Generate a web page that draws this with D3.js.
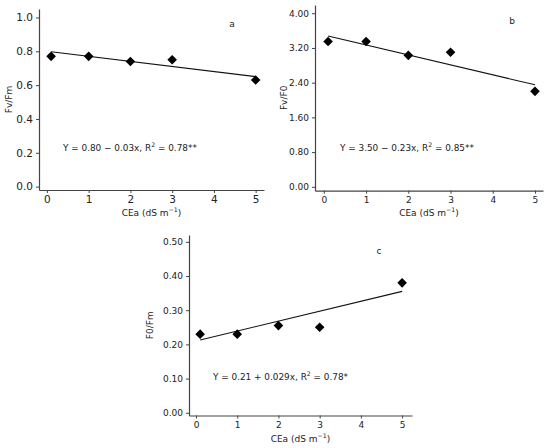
<!DOCTYPE html>
<html><head><meta charset="utf-8">
<script src="https://cdn.jsdelivr.net/npm/d3@7"></script>
<style>
body{margin:0;background:#fff;}
svg{display:block;font-family:"DejaVu Sans",sans-serif;}
</style></head>
<body>
<svg id="chart" width="550" height="448"></svg>
<script>
const ceaLevels = [0.1, 1, 2, 3, 5];
const fvFm = [0.77, 0.77, 0.74, 0.75, 0.63];
const fvF0 = [3.35, 3.35, 3.03, 3.10, 2.20];
const f0Fm = [0.23, 0.23, 0.255, 0.25, 0.38];
const fitA = [0.80, -0.03];
const fitB = [3.50, -0.23];
const fitC = [0.21, 0.029];
const xTicks = [0, 1, 2, 3, 4, 5];
const yTicksA = [0, 0.2, 0.4, 0.6, 0.8, 1.0];
const yTicksB = [0, 0.8, 1.6, 2.4, 3.2, 4.0];
const yTicksC = [0, 0.1, 0.2, 0.3, 0.4, 0.5];

const svg = d3.select("#chart");

const panels = [
  {vals: fvFm, fit: fitA, yTicks: yTicksA, fmt: d3.format(".1f"), ylab: "Fv/Fm", tag: "a",
   eq: ["Y = 0.80 \u2212 0.03x, R", "2", " = 0.78**"],
   xd: [-0.19, 5.2], xr: [39, 264], yd: [-0.02, 1.05], yr: [190, 9],
   tickFs: 10.5, eqPos: [63, 151], tagPos: [232, 27], ylabX: 12, xlabY: 216},
  {vals: fvF0, fit: fitB, yTicks: yTicksB, fmt: d3.format(".2f"), ylab: "Fv/F0", tag: "b",
   eq: ["Y = 3.50 \u2212 0.23x, R", "2", " = 0.85**"],
   xd: [-0.21, 5.19], xr: [315, 543], yd: [-0.09, 4.19], yr: [190.7, 5],
   tickFs: 9, eqPos: [340, 151], tagPos: [512, 24], ylabX: 287, xlabY: 216},
  {vals: f0Fm, fit: fitC, yTicks: yTicksC, fmt: d3.format(".2f"), ylab: "F0/Fm", tag: "c",
   eq: ["Y = 0.21 + 0.029x, R", "2", " = 0.78*"],
   xd: [-0.17, 5.24], xr: [189, 412], yd: [-0.008, 0.52], yr: [415.5, 235],
   tickFs: 9, eqPos: [213, 380], tagPos: [379, 254], ylabX: 153, xlabY: 442}
];

panels.forEach(p => {
  const x = d3.scaleLinear().domain(p.xd).range(p.xr);
  const y = d3.scaleLinear().domain(p.yd).range(p.yr);
  const g = svg.append("g");
  const axColor = "#444";

  const xa = g.append("g").attr("transform", `translate(0,${p.yr[0]})`)
    .call(d3.axisBottom(x).tickValues(xTicks).tickFormat(d3.format("d")).tickSize(3).tickPadding(3).tickSizeOuter(0));
  const ya = g.append("g").attr("transform", `translate(${p.xr[0]},0)`)
    .call(d3.axisLeft(y).tickValues(p.yTicks).tickFormat(p.fmt).tickSize(3).tickPadding(3).tickSizeOuter(0));
  [xa, ya].forEach(a => {
    a.select(".domain").attr("stroke", axColor).attr("stroke-width", 1.2);
    a.selectAll(".tick line").attr("stroke", axColor).attr("stroke-width", 1);
    a.selectAll(".tick text").attr("fill", "#222").attr("font-size", p.tickFs).attr("font-family", "DejaVu Sans");
  });

  // regression line
  const x0 = ceaLevels[0], x1 = ceaLevels[ceaLevels.length - 1];
  g.append("line")
    .attr("x1", x(x0)).attr("y1", y(p.fit[0] + p.fit[1] * x0))
    .attr("x2", x(x1)).attr("y2", y(p.fit[0] + p.fit[1] * x1))
    .attr("stroke", "#111").attr("stroke-width", 1.1);

  // points
  const sym = d3.symbol().type(d3.symbolSquare).size(46);
  g.selectAll("path.pt").data(ceaLevels).enter().append("path")
    .attr("class", "pt")
    .attr("d", sym)
    .attr("transform", (d, i) => `translate(${x(d)},${y(p.vals[i])}) rotate(45)`)
    .attr("fill", "#000");

  // equation
  const t = g.append("text").attr("x", p.eqPos[0]).attr("y", p.eqPos[1])
    .attr("font-size", 8.9).attr("fill", "#222");
  t.append("tspan").text(p.eq[0]);
  t.append("tspan").text(p.eq[1]).attr("font-size", 6.2).attr("dy", -3.8);
  t.append("tspan").text(p.eq[2]).attr("dy", 3.8);

  // panel tag
  g.append("text").attr("x", p.tagPos[0]).attr("y", p.tagPos[1])
    .attr("text-anchor", "middle").attr("font-size", 9).attr("fill", "#222").text(p.tag);

  // y label
  const ymid = (p.yr[0] + p.yr[1]) / 2;
  g.append("text").attr("transform", `translate(${p.ylabX},${ymid}) rotate(-90)`)
    .attr("text-anchor", "middle").attr("font-size", 9).attr("fill", "#222").text(p.ylab);

  // x label
  const xmid = (p.xr[0] + p.xr[1]) / 2;
  const xl = g.append("text").attr("x", xmid).attr("y", p.xlabY)
    .attr("text-anchor", "middle").attr("font-size", 9).attr("fill", "#222");
  xl.append("tspan").text("CEa (dS m");
  xl.append("tspan").text("\u22121").attr("font-size", 6.3).attr("dy", -3.8);
  xl.append("tspan").text(")").attr("dy", 3.8);
});
</script>
</body></html>
